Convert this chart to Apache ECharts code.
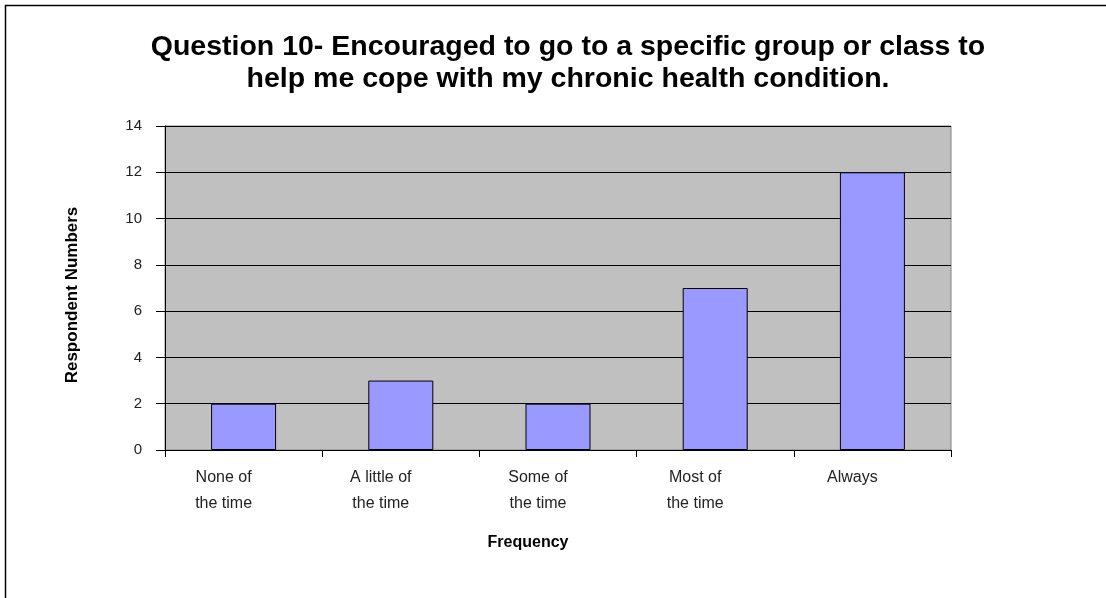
<!DOCTYPE html>
<html>
<head>
<meta charset="utf-8">
<script src="https://cdn.jsdelivr.net/npm/echarts@6/dist/echarts.min.js"></script>
<style>
  html, body { margin: 0; padding: 0; background: #fff; }
  #ECanvas { width: 1106px; height: 598px; }
</style>
</head>
<body>
<div id="ECanvas"></div>
<script>
  // values
  var categories = ['None of\nthe time', 'A little of\nthe time', 'Some of\nthe time', 'Most of\nthe time', 'Always'];
  var respondents = [2, 3, 2, 7, 12];
  var yTicks = [0, 2, 4, 6, 8, 10, 12, 14];

  var font = '"Liberation Sans", Arial, sans-serif';

  var myChart = echarts.init(document.getElementById('ECanvas'));
  var option = {
    backgroundColor: '#fff',
    animation: false,
    title: {
      text: 'Question 10- Encouraged to go to a specific group or class to\nhelp me cope with my chronic health condition.',
      left: 563,
      top: 26,
      textAlign: 'center',
      textStyle: {
        fontFamily: font,
        fontSize: 28.5,
        fontWeight: 'bold',
        color: '#000',
        lineHeight: 32
      }
    },
    graphic: [
      {
        type: 'rect',
        shape: { x: 5.5, y: 5.5, width: 1300, height: 800 },
        style: { fill: 'none', stroke: '#000', lineWidth: 1.5 },
        silent: true
      }
    ],
    grid: {
      left: 165,
      right: 155,
      top: 126,
      bottom: 148,
      show: true,
      backgroundColor: '#C0C0C0',
      borderColor: '#808080',
      borderWidth: 1
    },
    xAxis: {
      type: 'category',
      data: categories,
      name: 'Frequency',
      nameLocation: 'middle',
      nameGap: 85,
      nameTextStyle: {
        fontFamily: font,
        fontSize: 16,
        fontWeight: 'bold',
        color: '#000',
        padding: [0, 60, 0, 0]
      },
      axisLine: { lineStyle: { color: '#000', width: 1 } },
      axisTick: { show: true, length: 7, lineStyle: { color: '#000' } },
      axisLabel: {
        interval: 0,
        margin: 15,
        fontFamily: font,
        fontSize: 16,
        lineHeight: 26,
        color: '#222',
        padding: [0, 40, 0, 0]
      },
      splitLine: { show: false }
    },
    yAxis: {
      type: 'value',
      min: yTicks[0],
      max: yTicks[yTicks.length - 1],
      interval: 2,
      name: 'Respondent Numbers',
      nameLocation: 'middle',
      nameGap: 84,
      nameRotate: 90,
      nameTextStyle: {
        fontFamily: font,
        fontSize: 17,
        fontWeight: 'bold',
        color: '#000',
        padding: [0, 14, 0, 0]
      },
      axisLine: { show: true, lineStyle: { color: '#000', width: 1 } },
      axisTick: { show: true, length: 9, lineStyle: { color: '#000' } },
      axisLabel: {
        margin: 23,
        fontFamily: font,
        fontSize: 15,
        color: '#222'
      },
      splitLine: { show: true, lineStyle: { color: '#000', width: 1 } }
    },
    series: [
      {
        name: 'Respondents',
        type: 'bar',
        data: respondents,
        barWidth: 65,
        itemStyle: {
          color: '#9999FF',
          borderColor: '#000',
          borderWidth: 1
        }
      }
    ]
  };
  myChart.setOption(option);
</script>
</body>
</html>
